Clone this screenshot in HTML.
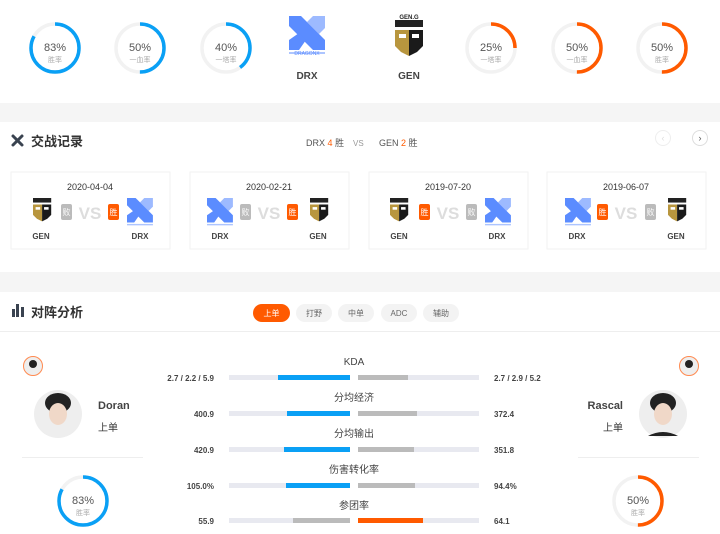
<!DOCTYPE html>
<html><head><meta charset="utf-8"><style>
html,body{margin:0;padding:0;background:#fff;width:720px;height:534px;overflow:hidden}
svg{display:block;font-family:"Liberation Sans","Noto Sans CJK SC",sans-serif}
</style></head><body>
<svg width="720" height="534" viewBox="0 0 720 534" xmlns="http://www.w3.org/2000/svg">
<defs>
<g id="drx">
<polygon points="0,0 12,0 36,24 36,34 24,34 0,10" fill="#5b8cff"/>
<polygon points="0,34 0,24 10,17 17,24 10,34" fill="#5b8cff"/>
<polygon points="24,0 36,0 36,12 30,18 18,6" fill="#5b8cff" opacity="0.6"/>
<rect x="0" y="36" width="36" height="2" fill="#5b8cff" opacity="0.5"/>
</g>
<g id="gen">
<rect x="0" y="0" width="28" height="7" fill="#222"/>
<polygon points="0,10 14,10 14,36 6,32 0,26" fill="#b8963e"/>
<polygon points="14,10 28,10 28,26 22,32 14,36" fill="#1a1a1a"/>
<rect x="4" y="14" width="7" height="4" fill="#fff"/>
<rect x="17" y="14" width="7" height="4" fill="#fff"/>
</g>
</defs>
<rect x="0" y="103" width="720" height="19" fill="#f5f5f5"/>
<rect x="0" y="272" width="720" height="20" fill="#f5f5f5"/>
<g fill="none" stroke-width="3.5">
<circle cx="55" cy="48" r="24" stroke="#f2f2f2"/><circle cx="55" cy="48" r="24" stroke="#0aa0f5" stroke-dasharray="125.2 150.8" transform="rotate(-90 55 48)"/>
<circle cx="140" cy="48" r="24" stroke="#f2f2f2"/><circle cx="140" cy="48" r="24" stroke="#0aa0f5" stroke-dasharray="75.4 150.8" transform="rotate(-90 140 48)"/>
<circle cx="226" cy="48" r="24" stroke="#f2f2f2"/><circle cx="226" cy="48" r="24" stroke="#0aa0f5" stroke-dasharray="60.3 150.8" transform="rotate(-90 226 48)"/>
<circle cx="491" cy="48" r="24" stroke="#f2f2f2"/><circle cx="491" cy="48" r="24" stroke="#ff5a00" stroke-dasharray="37.7 150.8" transform="rotate(-90 491 48)"/>
<circle cx="577" cy="48" r="24" stroke="#f2f2f2"/><circle cx="577" cy="48" r="24" stroke="#ff5a00" stroke-dasharray="75.4 150.8" transform="rotate(-90 577 48)"/>
<circle cx="662" cy="48" r="24" stroke="#f2f2f2"/><circle cx="662" cy="48" r="24" stroke="#ff5a00" stroke-dasharray="75.4 150.8" transform="rotate(-90 662 48)"/>
<circle cx="83" cy="501" r="24" stroke="#f2f2f2"/><circle cx="83" cy="501" r="24" stroke="#0aa0f5" stroke-dasharray="125.2 150.8" transform="rotate(-90 83 501)"/>
<circle cx="638" cy="501" r="24" stroke="#f2f2f2"/><circle cx="638" cy="501" r="24" stroke="#ff5a00" stroke-dasharray="75.4 150.8" transform="rotate(-90 638 501)"/>
</g>
<g text-anchor="middle" fill="#555" font-size="11">
<text x="55" y="51">83%</text><text x="140" y="51">50%</text><text x="226" y="51">40%</text>
<text x="491" y="51">25%</text><text x="577" y="51">50%</text><text x="662" y="51">50%</text>
<text x="83" y="504">83%</text><text x="638" y="504">50%</text>
</g>
<g text-anchor="middle" fill="#aaa" font-size="7">
<text x="55" y="62">胜率</text><text x="140" y="62">一血率</text><text x="226" y="62">一塔率</text>
<text x="491" y="62">一塔率</text><text x="577" y="62">一血率</text><text x="662" y="62">胜率</text>
<text x="83" y="515">胜率</text><text x="638" y="515">胜率</text>
</g>
<use href="#drx" x="289" y="16"/>
<text x="307" y="55" font-size="5" fill="#5b8cff" text-anchor="middle">DRAGONX</text>
<use href="#gen" x="395" y="20"/>
<text x="409" y="19" font-size="6" font-weight="bold" fill="#222" text-anchor="middle">GEN.G</text>
<g font-weight="bold" font-size="10" fill="#444" text-anchor="middle"><text x="307" y="79">DRX</text><text x="409" y="79">GEN</text></g>
<g stroke="#3a4350" stroke-width="3" stroke-linecap="round"><line x1="13" y1="136" x2="22" y2="145"/><line x1="22" y1="136" x2="13" y2="145"/></g>
<text x="31" y="146" font-size="13" fill="#333" font-weight="bold">交战记录</text>
<text x="306" y="146" font-size="9" fill="#555">DRX <tspan fill="#ff5a00">4</tspan> 胜</text>
<text x="353" y="146" font-size="8" fill="#999">VS</text>
<text x="379" y="146" font-size="9" fill="#555">GEN <tspan fill="#ff5a00">2</tspan> 胜</text>
<circle cx="663" cy="138" r="7.5" fill="none" stroke="#eee"/><text x="663" y="141" font-size="9" fill="#ddd" text-anchor="middle">‹</text>
<circle cx="700" cy="138" r="7.5" fill="none" stroke="#ddd"/><text x="700" y="141" font-size="9" fill="#555" text-anchor="middle">›</text>
<g fill="#fff" stroke="#f2f2f2"><rect x="11" y="172" width="159" height="77"/><rect x="190" y="172" width="159" height="77"/><rect x="369" y="172" width="159" height="77"/><rect x="547" y="172" width="159" height="77"/></g>
<g font-size="9" fill="#333" text-anchor="middle"><text x="90" y="190">2020-04-04</text><text x="269" y="190">2020-02-21</text><text x="448" y="190">2019-07-20</text><text x="626" y="190">2019-06-07</text></g>
<g font-size="17" font-weight="bold" fill="#ddd" text-anchor="middle"><text x="90" y="219">VS</text><text x="269" y="219">VS</text><text x="448" y="219">VS</text><text x="626" y="219">VS</text></g>
<use href="#gen" transform="translate(33,198) scale(0.65)"/>
<use href="#drx" transform="translate(127,198) scale(0.72)"/>
<use href="#drx" transform="translate(207,198) scale(0.72)"/>
<use href="#gen" transform="translate(310,198) scale(0.65)"/>
<use href="#gen" transform="translate(390,198) scale(0.65)"/>
<use href="#drx" transform="translate(485,198) scale(0.72)"/>
<use href="#drx" transform="translate(565,198) scale(0.72)"/>
<use href="#gen" transform="translate(668,198) scale(0.65)"/>
<g font-size="8">
<rect x="61" y="204" width="11" height="16" rx="2" fill="#bbb"/><text x="66.5" y="215" fill="#fff" text-anchor="middle">败</text>
<rect x="108" y="204" width="11" height="16" rx="2" fill="#ff5a00"/><text x="113.5" y="215" fill="#fff" text-anchor="middle">胜</text>
<rect x="240" y="204" width="11" height="16" rx="2" fill="#bbb"/><text x="245.5" y="215" fill="#fff" text-anchor="middle">败</text>
<rect x="287" y="204" width="11" height="16" rx="2" fill="#ff5a00"/><text x="292.5" y="215" fill="#fff" text-anchor="middle">胜</text>
<rect x="419" y="204" width="11" height="16" rx="2" fill="#ff5a00"/><text x="424.5" y="215" fill="#fff" text-anchor="middle">胜</text>
<rect x="466" y="204" width="11" height="16" rx="2" fill="#bbb"/><text x="471.5" y="215" fill="#fff" text-anchor="middle">败</text>
<rect x="597" y="204" width="11" height="16" rx="2" fill="#ff5a00"/><text x="602.5" y="215" fill="#fff" text-anchor="middle">胜</text>
<rect x="645" y="204" width="11" height="16" rx="2" fill="#bbb"/><text x="650.5" y="215" fill="#fff" text-anchor="middle">败</text>
</g>
<g font-size="8" font-weight="bold" fill="#444" text-anchor="middle">
<text x="41" y="239">GEN</text><text x="140" y="239">DRX</text><text x="220" y="239">DRX</text><text x="318" y="239">GEN</text>
<text x="399" y="239">GEN</text><text x="497" y="239">DRX</text><text x="577" y="239">DRX</text><text x="676" y="239">GEN</text>
</g>
<g fill="#3a4350"><rect x="12" y="309" width="3" height="8"/><rect x="16" y="304" width="3" height="13"/><rect x="21" y="307" width="3" height="10"/></g>
<text x="31" y="317" font-size="13" fill="#333" font-weight="bold">对阵分析</text>
<rect x="253" y="304" width="37" height="18" rx="9" fill="#ff5a00"/>
<g fill="#f3f3f3"><rect x="296" y="304" width="36" height="18" rx="9"/><rect x="338" y="304" width="36" height="18" rx="9"/><rect x="381" y="304" width="36" height="18" rx="9"/><rect x="423" y="304" width="36" height="18" rx="9"/></g>
<g font-size="8" text-anchor="middle" fill="#666"><text x="271.5" y="316" fill="#fff">上单</text><text x="314" y="316">打野</text><text x="356" y="316">中单</text><text x="399" y="316">ADC</text><text x="441" y="316">辅助</text></g>
<rect x="0" y="331" width="720" height="1" fill="#eee"/>
<circle cx="33" cy="366" r="9.5" fill="#eee" stroke="#ff8a50"/><circle cx="33" cy="364" r="4" fill="#222"/>
<circle cx="689" cy="366" r="9.5" fill="#eee" stroke="#ff8a50"/><circle cx="689" cy="364" r="4" fill="#222"/>
<circle cx="58" cy="414" r="24" fill="#eee"/><ellipse cx="58" cy="403" rx="13" ry="10" fill="#222"/><ellipse cx="58" cy="414" rx="9" ry="11" fill="#f0d8c8"/>
<circle cx="663" cy="414" r="24" fill="#eee"/><ellipse cx="663" cy="403" rx="13" ry="10" fill="#222"/><ellipse cx="663" cy="414" rx="9" ry="11" fill="#f0d8c8"/><path d="M648 436 Q663 428 678 436" fill="#222"/>
<text x="98" y="409" font-size="11" font-weight="bold" fill="#444">Doran</text>
<text x="98" y="431" font-size="10" fill="#333">上单</text>
<text x="623" y="409" font-size="11" font-weight="bold" fill="#444" text-anchor="end">Rascal</text>
<text x="623" y="431" font-size="10" fill="#333" text-anchor="end">上单</text>
<rect x="22" y="457" width="121" height="1" fill="#eee"/><rect x="578" y="457" width="121" height="1" fill="#eee"/>
<g font-size="10" fill="#444" text-anchor="middle"><text x="354" y="365">KDA</text><text x="354" y="401">分均经济</text><text x="354" y="437">分均输出</text><text x="354" y="473">伤害转化率</text><text x="354" y="509">参团率</text></g>
<g fill="#e8e9f0"><rect x="229" y="375" width="121" height="5"/><rect x="358" y="375" width="121" height="5"/><rect x="229" y="411" width="121" height="5"/><rect x="358" y="411" width="121" height="5"/><rect x="229" y="447" width="121" height="5"/><rect x="358" y="447" width="121" height="5"/><rect x="229" y="483" width="121" height="5"/><rect x="358" y="483" width="121" height="5"/><rect x="229" y="518" width="121" height="5"/><rect x="358" y="518" width="121" height="5"/></g>
<rect x="278" y="375" width="72" height="5" fill="#0aa0f5"/><rect x="358" y="375" width="50" height="5" fill="#bbb"/>
<rect x="287" y="411" width="63" height="5" fill="#0aa0f5"/><rect x="358" y="411" width="59" height="5" fill="#bbb"/>
<rect x="284" y="447" width="66" height="5" fill="#0aa0f5"/><rect x="358" y="447" width="56" height="5" fill="#bbb"/>
<rect x="286" y="483" width="64" height="5" fill="#0aa0f5"/><rect x="358" y="483" width="57" height="5" fill="#bbb"/>
<rect x="293" y="518" width="57" height="5" fill="#bbb"/><rect x="358" y="518" width="65" height="5" fill="#ff5a00"/>
<g font-size="8" font-weight="bold" fill="#444" text-anchor="end"><text x="214" y="381">2.7 / 2.2 / 5.9</text><text x="214" y="417">400.9</text><text x="214" y="453">420.9</text><text x="214" y="489">105.0%</text><text x="214" y="524">55.9</text></g>
<g font-size="8" font-weight="bold" fill="#444"><text x="494" y="381">2.7 / 2.9 / 5.2</text><text x="494" y="417">372.4</text><text x="494" y="453">351.8</text><text x="494" y="489">94.4%</text><text x="494" y="524">64.1</text></g>
</svg>
</body></html>
